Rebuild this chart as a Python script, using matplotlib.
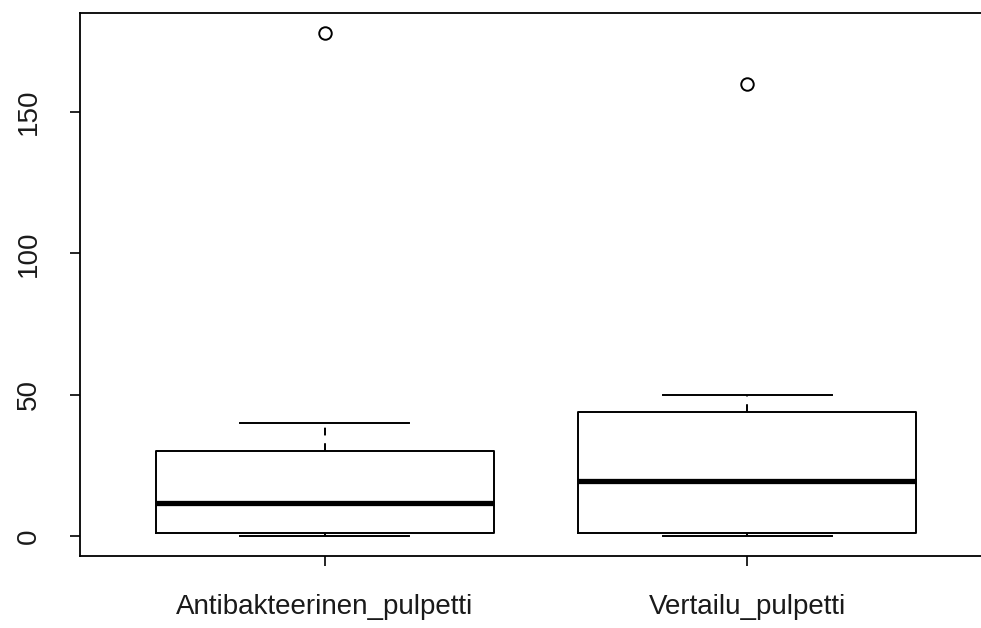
import matplotlib
matplotlib.use("Agg")
import matplotlib.pyplot as plt

# Box summary values
groups = ["Antibakteerinen_pulpetti", "Vertailu_pulpetti"]
whisker_lo = [0, 0]
q1 = [1, 1]
medians = [11.5, 19.5]
q3 = [30, 44]
whisker_hi = [40, 50]
outliers = [[178], [160]]

stats = []
for i, name in enumerate(groups):
    stats.append({
        "label": name,
        "whislo": whisker_lo[i],
        "q1": q1[i],
        "med": medians[i],
        "q3": q3[i],
        "whishi": whisker_hi[i],
        "fliers": outliers[i],
    })

plt.rcParams["font.family"] = ["Liberation Sans", "DejaVu Sans"]

fig = plt.figure(figsize=(9.81, 6.28), dpi=100)
ax = fig.add_axes([80 / 981, 1 - 556 / 628, 912 / 981, 543 / 628])

ax.bxp(
    stats,
    positions=[1, 2],
    widths=0.8,
    boxprops=dict(color="black", linewidth=1.4),
    whiskerprops=dict(color="black", linewidth=1.4, linestyle=(0, (4, 4))),
    capprops=dict(color="black", linewidth=1.4),
    medianprops=dict(color="black", linewidth=3.8),
    flierprops=dict(marker="o", markerfacecolor="none", markeredgecolor="black",
                    markersize=9, markeredgewidth=1.4),
    capwidths=0.4,
)

ax.set_xlim(0.42, 2.58)
ax.set_ylim(-7.12, 185.12)
ax.set_yticks([0, 50, 100, 150])
ax.set_yticklabels(["0", "50", "100", "150"], rotation=90, va="center")
ax.set_xticks([1, 2])
ax.set_xticklabels(groups)
ax.tick_params(axis="both", direction="out", length=7, width=1.2, labelsize=20,
               colors="black", labelcolor="#1a1a1a")
ax.tick_params(axis="x", pad=28 * 0.72)
ax.tick_params(axis="y", pad=28 * 0.72)
for s in ax.spines.values():
    s.set_linewidth(1.3)
ax.spines["right"].set_visible(False)

fig.savefig("out.png", dpi=100)
